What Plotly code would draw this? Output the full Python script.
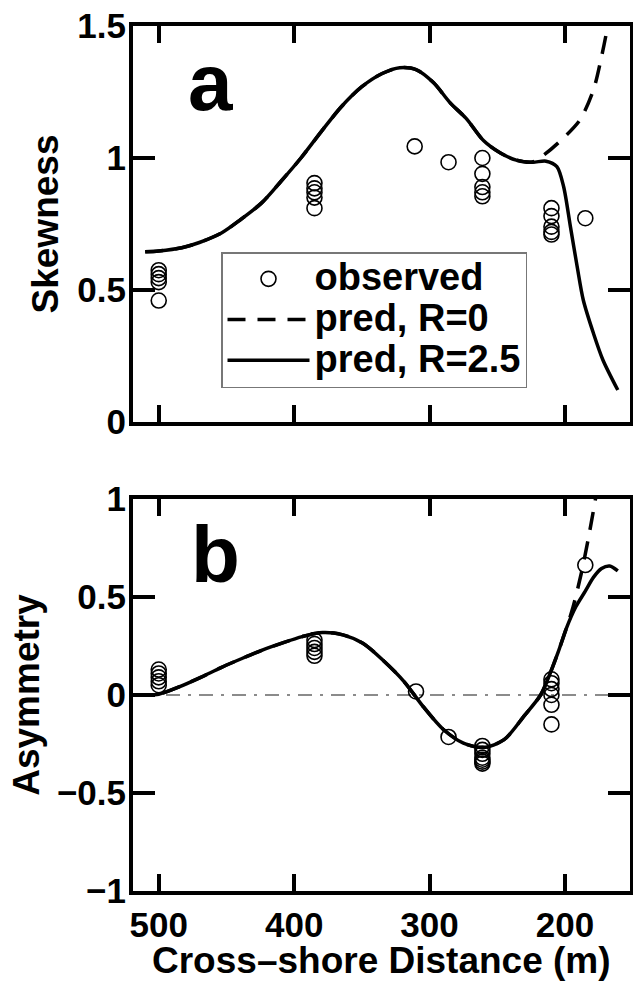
import plotly.graph_objects as go

# ---------------- data ----------------
# Panel a: skewness
obs_a_x = [500, 500, 500, 500, 500,
           385, 385, 385, 385, 385,
           311, 286,
           261, 261, 261, 261, 261,
           210, 210, 210, 210, 210,
           185]
obs_a_y = [0.575, 0.56, 0.545, 0.53, 0.46,
           0.905, 0.885, 0.87, 0.85, 0.81,
           1.044, 0.984,
           1.0, 0.94, 0.89, 0.87, 0.855,
           0.81, 0.78, 0.74, 0.72, 0.71,
           0.772]

pred25_a_x = [510, 500, 483, 470, 454, 440, 424, 410, 395, 380, 365, 350, 335, 322,
              310, 297, 285, 273, 260, 248, 236, 224, 214, 206, 201, 196, 191,
              186.5, 179, 172, 161]
pred25_a_y = [0.645, 0.648, 0.66, 0.68, 0.715, 0.765, 0.83, 0.91, 1.0, 1.1, 1.195, 1.27,
              1.32, 1.342, 1.335, 1.285, 1.21, 1.15, 1.065, 1.02, 0.992, 0.984, 0.988,
              0.967, 0.891, 0.74, 0.588, 0.462, 0.336, 0.235, 0.121]

pred0_a_x = [510, 500, 483, 470, 454, 440, 424, 410, 395, 380, 365, 350, 335, 322,
             310, 297, 285, 273, 260, 248, 236, 224, 216, 204, 189, 179, 173, 169, 167.5]
pred0_a_y = [0.645, 0.648, 0.66, 0.68, 0.715, 0.765, 0.83, 0.91, 1.0, 1.1, 1.195, 1.27,
             1.32, 1.342, 1.335, 1.285, 1.21, 1.15, 1.065, 1.02, 0.992, 0.985, 1.01,
             1.062, 1.144, 1.258, 1.384, 1.485, 1.53]

# Panel b: asymmetry
obs_b_x = [500, 500, 500, 500, 500,
           385, 385, 385, 385, 385,
           310, 286,
           261, 261, 261, 261, 261, 261, 261,
           210, 210, 210, 210, 210, 210,
           185]
obs_b_y = [0.13, 0.11, 0.09, 0.07, 0.05,
           0.28, 0.26, 0.24, 0.22, 0.2,
           0.018, -0.214,
           -0.26, -0.28, -0.30, -0.32, -0.33, -0.34, -0.35,
           0.08, 0.06, 0.03, 0.0, -0.05, -0.15,
           0.663]

pred25_b_x = [519, 510, 500, 484, 469, 454, 439, 424, 409, 394, 379, 364, 349, 334, 319,
              304.5, 290, 275, 260, 245, 230, 218, 211, 205, 199, 192, 185, 179, 173,
              167, 161]
pred25_b_y = [0.0, 0.0, 0.004, 0.044, 0.09, 0.14, 0.185, 0.228, 0.265, 0.298, 0.319, 0.307,
              0.263, 0.175, 0.07, -0.061, -0.175, -0.246, -0.268, -0.228, -0.105, 0.0,
              0.11, 0.22, 0.34, 0.45, 0.53, 0.6, 0.645, 0.658, 0.633]

pred0_b_x = [519, 510, 500, 484, 469, 454, 439, 424, 409, 394, 379, 364, 349, 334, 319,
             304.5, 290, 275, 260, 245, 230, 218, 211, 205, 199, 194, 188, 183, 178, 176.5]
pred0_b_y = [0.0, 0.0, 0.004, 0.044, 0.09, 0.14, 0.185, 0.228, 0.265, 0.298, 0.319, 0.307,
             0.263, 0.175, 0.07, -0.061, -0.175, -0.246, -0.268, -0.228, -0.105, 0.0,
             0.11, 0.22, 0.34, 0.45, 0.62, 0.79, 0.98, 1.04]

zero_x = [519, 152]
zero_y = [0, 0]

x_ticks = [500, 400, 300, 200]
x_ticktext = ["500", "400", "300", "200"]
ya_ticks = [0, 0.5, 1, 1.5]
ya_ticktext = ["0", "0.5", "1", "1.5"]
yb_ticks = [-1, -0.5, 0, 0.5, 1]
yb_ticktext = ["\u22121", "\u22120.5", "0", "0.5", "1"]

legend_names = ["observed", "pred, R=0", "pred, R=2.5"]
x_title = "Cross\u2013shore Distance (m)"

# ---------------- figure ----------------
FONT = "Liberation Sans"
W, H = 633, 982
fig = go.Figure()


def big(t):
    return '<span style="font-size:38px">' + t + '</span>'


marker_style = dict(symbol="circle-open", size=15, color="black", line=dict(width=1.6, color="black"))

fig.add_trace(go.Scatter(x=obs_a_x, y=obs_a_y, mode="markers", marker=marker_style,
                         name=big(legend_names[0]), xaxis="x", yaxis="y"))
fig.add_trace(go.Scatter(x=pred0_a_x, y=pred0_a_y, mode="lines",
                         line=dict(color="black", width=3.5, dash="18px,12px", shape="spline", smoothing=0.8),
                         name=big(legend_names[1]), xaxis="x", yaxis="y"))
fig.add_trace(go.Scatter(x=pred25_a_x, y=pred25_a_y, mode="lines",
                         line=dict(color="black", width=3.5, shape="spline", smoothing=0.8),
                         name=big(legend_names[2]), xaxis="x", yaxis="y"))

fig.add_trace(go.Scatter(x=zero_x, y=zero_y, mode="lines",
                         line=dict(color="#666666", width=1.3, dash="14px,8px,3px,8px"),
                         showlegend=False, xaxis="x2", yaxis="y2"))
fig.add_trace(go.Scatter(x=obs_b_x, y=obs_b_y, mode="markers", marker=marker_style,
                         showlegend=False, xaxis="x2", yaxis="y2"))
fig.add_trace(go.Scatter(x=pred0_b_x, y=pred0_b_y, mode="lines",
                         line=dict(color="black", width=3.5, dash="18px,12px", shape="spline", smoothing=0.8),
                         showlegend=False, xaxis="x2", yaxis="y2"))
fig.add_trace(go.Scatter(x=pred25_b_x, y=pred25_b_y, mode="lines",
                         line=dict(color="black", width=3.5, shape="spline", smoothing=0.8),
                         showlegend=False, xaxis="x2", yaxis="y2"))

xdom = [133 / W, 630 / W]
ya_dom = [(H - 422) / H, (H - 26) / H]
yb_dom = [(H - 891) / H, (H - 499) / H]
tickfont = dict(family=FONT, size=35, color="black", weight="bold")
titlefont = dict(family=FONT, size=37, color="black", weight="bold")

common_x = dict(range=[519, 152], domain=xdom, tickvals=x_ticks, ticktext=x_ticktext,
                ticks="inside", ticklen=17, tickwidth=4, tickcolor="black",
                showline=True, linewidth=4, linecolor="black", mirror="ticks",
                showgrid=False, zeroline=False, tickfont=tickfont, automargin=False)
common_y = dict(ticks="inside", ticklen=22, tickwidth=4, tickcolor="black",
                showline=True, linewidth=4, linecolor="black", mirror="ticks",
                showgrid=False, zeroline=False, tickfont=tickfont, ticklabelstandoff=-4,
                automargin=False)

fig.update_layout(
    template="none",
    width=W, height=H,
    margin=dict(l=0, r=0, t=0, b=0, pad=0),
    paper_bgcolor="white", plot_bgcolor="white",
    font=dict(family=FONT, color="black"),
    xaxis=dict(**common_x, anchor="y", showticklabels=False),
    yaxis=dict(**common_y, domain=ya_dom, range=[0, 1.5], tickvals=ya_ticks, ticktext=ya_ticktext,
               anchor="x", title=dict(text="Skewness", font=titlefont, standoff=8)),
    xaxis2=dict(**common_x, anchor="y2", ticklabelstandoff=0),
    yaxis2=dict(**common_y, domain=yb_dom, range=[-1, 1], tickvals=yb_ticks, ticktext=yb_ticktext,
                anchor="x2", title=dict(text="Asymmetry", font=titlefont, standoff=7)),
    legend=dict(x=221 / W, y=1 - 252 / H, xanchor="left", yanchor="top",
                bgcolor="white", bordercolor="#777777", borderwidth=1.5,
                font=dict(family=FONT, size=29, color="black", weight="bold"),
                itemwidth=82, tracegroupgap=0),
    showlegend=True,
)

# x-axis title (placed as paper annotation so it can sit at the very bottom edge)
fig.add_annotation(x=(xdom[0] + xdom[1]) / 2, y=0, xref="paper", yref="paper",
                   xanchor="center", yanchor="bottom", yshift=0, borderpad=0, text=x_title,
                   showarrow=False, font=titlefont)

fig.add_annotation(x=462, y=1.286, xref="x", yref="y", text="a", showarrow=False,
                   font=dict(family=FONT, size=80, color="black", weight="bold"))
fig.add_annotation(x=458, y=0.715, xref="x2", yref="y2", text="b", showarrow=False,
                   font=dict(family=FONT, size=80, color="black", weight="bold"))

fig.write_html("out.html", config={"displayModeBar": False},
               post_script="document.body.style.margin='0px';")
